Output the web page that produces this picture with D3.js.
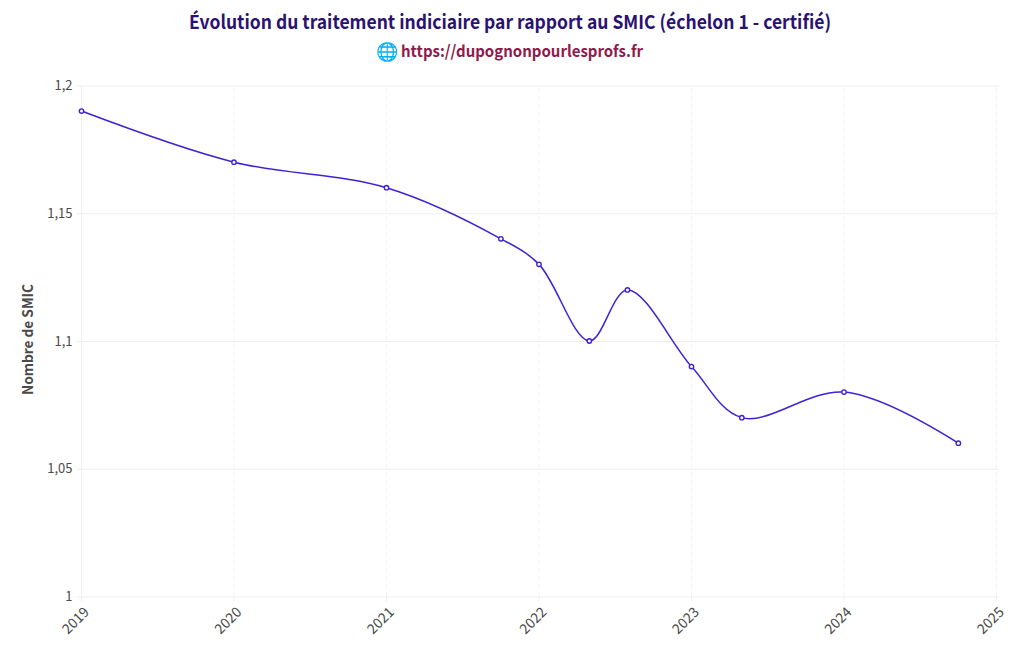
<!DOCTYPE html>
<html lang="fr">
<head>
<meta charset="utf-8">
<script src="https://cdn.jsdelivr.net/npm/d3@7/dist/d3.min.js"></script>
<style>
html,body{margin:0;padding:0;background:#fff}
svg{display:block;font-family:"Noto Sans CJK SC","Noto Sans",sans-serif}
</style>
</head>
<body>
<div id="chart"></div>
<script>
const years = [2019, 2020, 2021, 2021.75, 2022, 2022.33, 2022.58, 2023, 2023.33, 2024, 2024.75];
const ratios = [1.19, 1.17, 1.16, 1.14, 1.13, 1.10, 1.12, 1.09, 1.07, 1.08, 1.06];
const xTicks = [2019, 2020, 2021, 2022, 2023, 2024, 2025];
const yTicks = [1, 1.05, 1.1, 1.15, 1.2];
const yTickLabels = ["1", "1,05", "1,1", "1,15", "1,2"];
const titleText = "Évolution du traitement indiciaire par rapport au SMIC (échelon 1 - certifié)";
const linkIcon = "🌐";
const linkText = "https://dupognonpourlesprofs.fr";
const yTitle = "Nombre de SMIC";

const W = 1020, H = 650;
const fontStack = '"Noto Sans CJK SC","Noto Sans",sans-serif';
const x = d3.scaleLinear().domain([2019, 2025]).range([81.5, 996.5]);
const y = d3.scaleLinear().domain([1, 1.2]).range([596.5, 85.5]);
const gridCol = "#eeeeee", dashCol = "#f2f2f2", textCol = "#4a4a4a", lineCol = "#3f22d6";

const svg = d3.select("#chart").append("svg").attr("width", W).attr("height", H);

// Horizontal grid and ticks
const yAxis = d3.axisLeft(y).tickValues(yTicks)
  .tickSize(0).tickPadding(9)
  .tickFormat((d, i) => yTickLabels[i]);
const gy = svg.append("g").attr("transform", "translate(81.5,0)").call(yAxis)
  .attr("font-family", fontStack);
gy.select(".domain").remove();
gy.selectAll(".tick text").attr("fill", textCol).style("font-size", "13px");
gy.selectAll(".tick").append("line")
  .attr("x1", -5).attr("x2", x(2025) + 2 - x(2019))
  .attr("stroke", gridCol).attr("stroke-width", 1);

// Vertical grid and ticks
const gx = svg.append("g").attr("transform", `translate(0,${y(1)})`);
const xt = gx.selectAll("g").data(xTicks).join("g")
  .attr("transform", d => `translate(${x(d)},0)`);
xt.append("line").attr("y1", 0).attr("y2", y(1.2) - y(1))
  .attr("stroke", d => d === 2019 ? gridCol : dashCol).attr("stroke-width", 1)
  .attr("stroke-dasharray", d => d === 2019 ? null : "4,4");
xt.append("line").attr("y1", 0).attr("y2", 5).attr("stroke", gridCol);
xt.append("text").text(d => d)
  .attr("transform", "translate(1,9) rotate(-45)")
  .attr("text-anchor", "end").attr("dy", "0.75em")
  .attr("fill", textCol).style("font-size", "14px");

// Spline through the points (Catmull-Rom style, as the original chart)
function tangent(p, c, n) {
  const d1x = p[0] - c[0], d1y = p[1] - c[1], d2x = n[0] - c[0], d2y = n[1] - c[1];
  const a1 = Math.pow(d1x * d1x + d1y * d1y, 0.25), a2 = Math.pow(d2x * d2x + d2y * d2y, 0.25);
  const nx = a2 * a2 * d1x - a1 * a1 * d2x, ny = a2 * a2 * d1y - a1 * a1 * d2y;
  const q1 = 3 * a2 * (a1 + a2), q2 = 3 * a1 * (a1 + a2);
  return [[c[0] + nx / q1, c[1] + ny / q1], [c[0] - nx / q2, c[1] - ny / q2]];
}
const pts = years.map((v, i) => [x(v), y(ratios[i])]);
const tans = [];
for (let i = 1; i < pts.length - 1; i++) tans.push(tangent(pts[i - 1], pts[i], pts[i + 1]));
const path = d3.path();
path.moveTo(...pts[0]);
path.quadraticCurveTo(...tans[0][0], ...pts[1]);
for (let i = 2; i < pts.length - 1; i++) {
  path.bezierCurveTo(...tans[i - 2][1], ...tans[i - 1][0], ...pts[i]);
}
path.quadraticCurveTo(...tans[tans.length - 1][1], ...pts[pts.length - 1]);

svg.append("path").attr("d", path.toString())
  .attr("fill", "none").attr("stroke", lineCol).attr("stroke-width", 1.5);
svg.selectAll("circle.pt").data(pts).join("circle").attr("class", "pt")
  .attr("cx", d => d[0]).attr("cy", d => d[1]).attr("r", 2.2)
  .attr("fill", "#fff").attr("stroke", lineCol).attr("stroke-width", 1.4);

// Titles
svg.append("text").attr("x", 189).attr("y", 29)
  .attr("textLength", 642).attr("lengthAdjust", "spacingAndGlyphs")
  .attr("fill", "#2a1270").attr("font-weight", 700).style("font-size", "19px").text(titleText);
svg.append("text").attr("x", 376).attr("y", 58)
  .attr("fill", "#0a9fe0").attr("font-weight", 700).style("font-size", "18px").text(linkIcon);
svg.append("text").attr("x", 401).attr("y", 57)
  .attr("textLength", 242).attr("lengthAdjust", "spacingAndGlyphs")
  .attr("fill", "#8f1a4b").attr("font-weight", 700).style("font-size", "16px").text(linkText);

svg.append("text").attr("transform", `translate(33,339.5) rotate(-90)`)
  .attr("text-anchor", "middle").attr("font-weight", 700)
  .attr("textLength", 111).attr("lengthAdjust", "spacingAndGlyphs")
  .attr("fill", textCol).style("font-size", "14px").text(yTitle);
</script>
</body>
</html>
